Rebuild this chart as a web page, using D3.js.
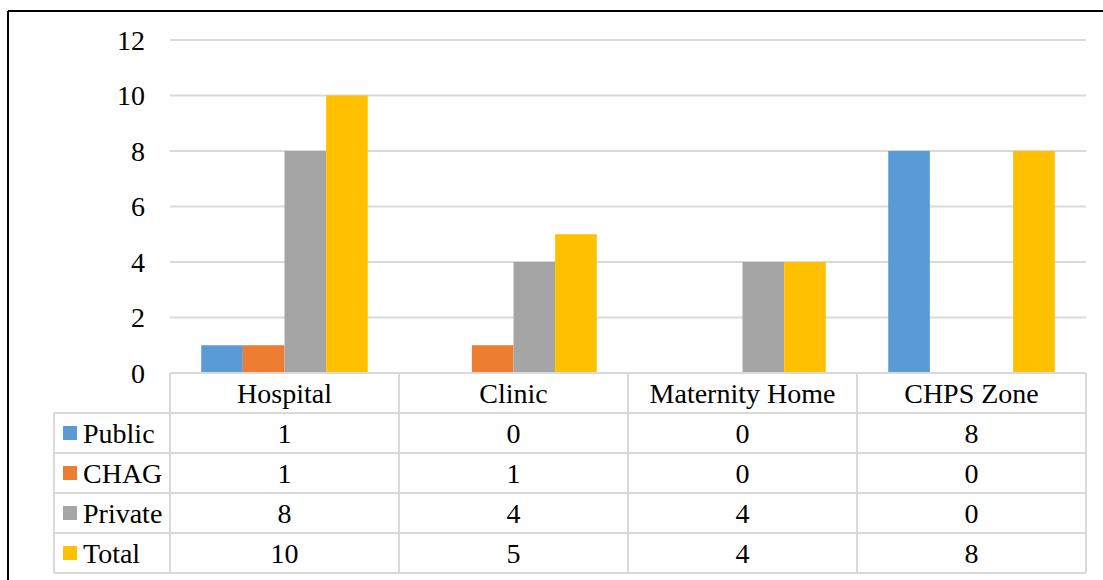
<!DOCTYPE html>
<html>
<head>
<meta charset="utf-8">
<script src="https://cdn.jsdelivr.net/npm/d3@7"></script>
<style>
  html, body { margin: 0; padding: 0; background: #fff; }
  svg { display: block; }
</style>
</head>
<body>
<svg id="chart" width="1103" height="580"></svg>
<script>
const categories = ["Hospital", "Clinic", "Maternity Home", "CHPS Zone"];
const seriesNames = ["Public", "CHAG", "Private", "Total"];
const publicVals = [1, 0, 0, 8];
const chagVals = [1, 1, 0, 0];
const privateVals = [8, 4, 4, 0];
const totalVals = [10, 5, 4, 8];
const yTicks = [0, 2, 4, 6, 8, 10, 12];
const colors = ["#5B9BD5", "#ED7D31", "#A5A5A5", "#FFC000"];

const seriesVals = [publicVals, chagVals, privateVals, totalVals];

const FONT = "'Liberation Serif', 'Times New Roman', Times, 'DejaVu Serif', serif";

const svg = d3.select("#chart");
const W = 1103, H = 580;
const plotL = 170, plotR = 1086, plotT = 40, plotB = 373;
const legendL = 54;
const rowH = 40;
const fontSize = 28;
const gridColor = "#d9d9d9";

const x = d3.scaleBand().domain(categories).range([plotL, plotR]).paddingInner(0).paddingOuter(0);
const xs = d3.scaleBand().domain(seriesNames).range([0, x.bandwidth()]).paddingInner(0).paddingOuter(0.75);
const y = d3.scaleLinear().domain([0, 12]).range([plotB, plotT]);

function txt(sel) {
  return sel.attr("font-family", FONT).style("font-family", FONT).attr("font-size", fontSize).style("font-size", fontSize + "px").attr("fill", "#000");
}

// frame
svg.append("line").attr("x1", 8).attr("y1", 11).attr("x2", W).attr("y2", 11).attr("stroke", "#000").attr("stroke-width", 2);
svg.append("line").attr("x1", 8).attr("y1", 11).attr("x2", 8).attr("y2", H).attr("stroke", "#000").attr("stroke-width", 2);

// gridlines
svg.append("g").selectAll("line").data(yTicks.filter(d => d > 0)).join("line")
  .attr("x1", plotL).attr("x2", plotR)
  .attr("y1", d => y(d)).attr("y2", d => y(d))
  .attr("stroke", gridColor).attr("stroke-width", 2);

// y tick labels
txt(svg.append("g").selectAll("text").data(yTicks).join("text")
  .attr("x", 145).attr("y", d => y(d)).attr("dy", "0.35em")
  .attr("text-anchor", "end"))
  .text(d => d);

// bars
const gBars = svg.append("g");
seriesNames.forEach((s, si) => {
  gBars.append("g").selectAll("rect").data(categories.map((c, ci) => ({c, v: seriesVals[si][ci]}))).join("rect")
    .attr("x", d => x(d.c) + xs(s))
    .attr("width", xs.bandwidth())
    .attr("y", d => y(d.v))
    .attr("height", d => y(0) - y(d.v))
    .attr("fill", colors[si]);
});

// data table
const tableTop = plotB;
const tableBottom = tableTop + rowH * (seriesNames.length + 1);
const gT = svg.append("g");
gT.append("line").attr("x1", plotL).attr("x2", plotR).attr("y1", tableTop).attr("y2", tableTop).attr("stroke", gridColor).attr("stroke-width", 2);
for (let r = 1; r <= seriesNames.length + 1; r++) {
  gT.append("line").attr("x1", legendL).attr("x2", plotR)
    .attr("y1", tableTop + r * rowH).attr("y2", tableTop + r * rowH)
    .attr("stroke", gridColor).attr("stroke-width", 2);
}
gT.append("line").attr("x1", legendL).attr("x2", legendL).attr("y1", tableTop + rowH).attr("y2", tableBottom).attr("stroke", gridColor).attr("stroke-width", 2);
categories.forEach(c => {
  gT.append("line").attr("x1", x(c)).attr("x2", x(c)).attr("y1", tableTop).attr("y2", tableBottom).attr("stroke", gridColor).attr("stroke-width", 2);
});
gT.append("line").attr("x1", plotR).attr("x2", plotR).attr("y1", tableTop).attr("y2", tableBottom).attr("stroke", gridColor).attr("stroke-width", 2);

// header
txt(gT.append("g").selectAll("text").data(categories).join("text")
  .attr("x", d => x(d) + x.bandwidth() / 2).attr("y", tableTop + rowH / 2).attr("dy", "0.35em")
  .attr("text-anchor", "middle")).text(d => d);

// rows
seriesNames.forEach((s, si) => {
  const cy = tableTop + rowH * (si + 1) + rowH / 2;
  gT.append("rect").attr("x", 63).attr("y", cy - 7).attr("width", 14).attr("height", 14).attr("fill", colors[si]);
  txt(gT.append("text").attr("x", 83).attr("y", cy).attr("dy", "0.35em")).text(s);
  txt(gT.append("g").selectAll("text").data(categories.map((c, ci) => ({c, v: seriesVals[si][ci]}))).join("text")
    .attr("x", d => x(d.c) + x.bandwidth() / 2).attr("y", cy).attr("dy", "0.35em")
    .attr("text-anchor", "middle")).text(d => d.v);
});
</script>
</body>
</html>
